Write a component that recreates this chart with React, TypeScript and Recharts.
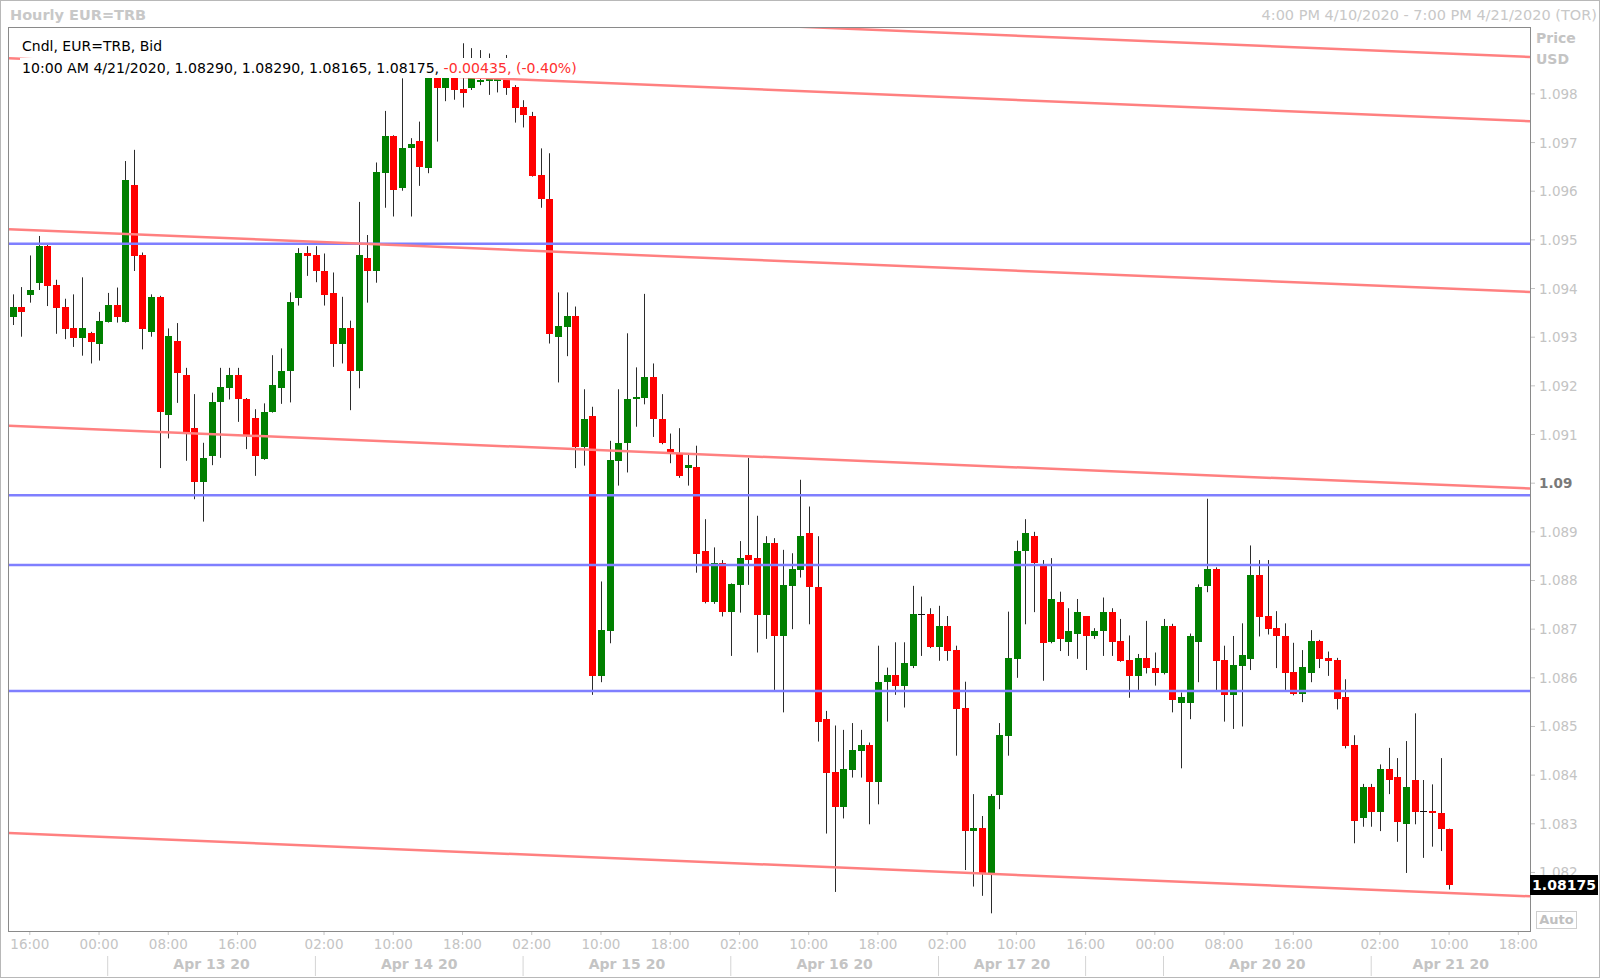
import React from 'react';
import { ComposedChart, Bar, XAxis, YAxis, ReferenceLine } from 'recharts';

// hourly EUR=TRB bid candles, 4/10 16:00 .. 4/21 10:00 (weekend collapsed)
const opens = [
  1.09342, 1.09363, 1.09387, 1.09412, 1.09487, 1.09407, 1.09363, 1.09318, 1.09298, 1.09308,
  1.09287, 1.09332, 1.09366, 1.09332, 1.09613, 1.09469, 1.09311, 1.09382, 1.0914, 1.09292,
  1.09222, 1.09113, 1.09002, 1.09056, 1.09166, 1.09196, 1.09222, 1.09173, 1.09133, 1.0905,
  1.09147, 1.09195, 1.09231, 1.09381, 1.09472, 1.09469, 1.09437, 1.09391, 1.09287, 1.09318,
  1.09231, 1.09462, 1.09437, 1.09637, 1.09713, 1.09606, 1.09688, 1.09703, 1.09647, 1.09837,
  1.09812, 1.09833, 1.0981, 1.09812, 1.09828, 1.09827, 1.09829, 1.09832, 1.09814, 1.09774,
  1.09755, 1.09633, 1.09585, 1.09301, 1.0932, 1.09344, 1.09075, 1.09138, 1.08604, 1.08697,
  1.09046, 1.09082, 1.09173, 1.09176, 1.09218, 1.09132, 1.09071, 1.09059, 1.09031, 1.09033,
  1.08861, 1.08755, 1.08835, 1.08736, 1.08791, 1.08852, 1.08846, 1.08729, 1.08878, 1.08685,
  1.08789, 1.08822, 1.08897, 1.08787, 1.08515, 1.08406, 1.08334, 1.08411, 1.0845, 1.08461,
  1.08385, 1.08591, 1.08606, 1.08584, 1.08624, 1.08731, 1.08731, 1.08664, 1.08707, 1.08657,
  1.08537, 1.08286, 1.08291, 1.08198, 1.08359, 1.08481, 1.08639, 1.08861, 1.08891, 1.0883,
  1.08673, 1.08755, 1.08674, 1.0869, 1.08727, 1.08685, 1.08696, 1.08736, 1.08676, 1.08637,
  1.08604, 1.0864, 1.08621, 1.08609, 1.08707, 1.08549, 1.08549, 1.08674, 1.08789, 1.08823,
  1.08637, 1.08565, 1.08625, 1.08639, 1.08811, 1.08727, 1.08702, 1.08686, 1.08611, 1.08566,
  1.0861, 1.08676, 1.08641, 1.08637, 1.08561, 1.08461, 1.08311, 1.08376, 1.08324, 1.08412,
  1.08396, 1.08299, 1.0839, 1.08326, 1.08326, 1.08322, 1.0829,
];
const highs = [
  1.09388, 1.09403, 1.09468, 1.09508, 1.0949, 1.09418, 1.09379, 1.09388, 1.09423, 1.09311,
  1.09352, 1.09391, 1.09402, 1.09662, 1.09685, 1.09474, 1.09388, 1.09385, 1.09318, 1.09329,
  1.09237, 1.09183, 1.09083, 1.09186, 1.09237, 1.09237, 1.09237, 1.09175, 1.09152, 1.09164,
  1.09263, 1.09277, 1.09392, 1.09483, 1.09487, 1.09487, 1.09472, 1.09433, 1.09383, 1.09334,
  1.09578, 1.0951, 1.09659, 1.09765, 1.09715, 1.09832, 1.09709, 1.09743, 1.09845, 1.09845,
  1.09841, 1.09839, 1.09904, 1.09894, 1.0989, 1.09883, 1.09833, 1.0988, 1.09818, 1.09787,
  1.09763, 1.09688, 1.09678, 1.09392, 1.09392, 1.09363, 1.09193, 1.09157, 1.08798, 1.09087,
  1.09193, 1.09308, 1.09238, 1.09389, 1.09246, 1.09183, 1.09102, 1.09113, 1.09058, 1.09077,
  1.08926, 1.08868, 1.08842, 1.08794, 1.08881, 1.09052, 1.08933, 1.08891, 1.08887, 1.08863,
  1.08856, 1.09007, 1.08952, 1.08891, 1.08532, 1.08502, 1.08493, 1.08507, 1.08493, 1.08467,
  1.08666, 1.08621, 1.08673, 1.08673, 1.08789, 1.08767, 1.08743, 1.08748, 1.08727, 1.08666,
  1.08592, 1.08361, 1.08316, 1.08361, 1.08507, 1.08736, 1.08882, 1.08926, 1.089, 1.08842,
  1.08846, 1.08777, 1.08743, 1.08762, 1.08727, 1.08702, 1.08765, 1.08743, 1.08721, 1.08687,
  1.08649, 1.08717, 1.08652, 1.08721, 1.08711, 1.0857, 1.08691, 1.08792, 1.08968, 1.08827,
  1.08666, 1.08686, 1.08712, 1.08872, 1.08842, 1.08842, 1.08737, 1.08712, 1.08672, 1.08657,
  1.08698, 1.08678, 1.08654, 1.08641, 1.08597, 1.08482, 1.08382, 1.08382, 1.08422, 1.08456,
  1.08435, 1.0847, 1.08527, 1.0839, 1.08381, 1.08435, 1.0829,
];
const lows = [
  1.09325, 1.09301, 1.09371, 1.09397, 1.09364, 1.09307, 1.09296, 1.0928, 1.09262, 1.09246,
  1.09252, 1.0933, 1.0933, 1.0933, 1.09436, 1.09275, 1.09301, 1.09031, 1.09092, 1.09165,
  1.09046, 1.08967, 1.08921, 1.09037, 1.09052, 1.09172, 1.09126, 1.0907, 1.09015, 1.09048,
  1.09145, 1.09163, 1.09166, 1.09365, 1.09426, 1.09413, 1.09365, 1.09239, 1.09246, 1.0915,
  1.09195, 1.09371, 1.09412, 1.09566, 1.09548, 1.09601, 1.09548, 1.09611, 1.09637, 1.09702,
  1.09785, 1.09788, 1.09772, 1.09808, 1.09818, 1.09798, 1.09803, 1.09798, 1.09741, 1.09731,
  1.0963, 1.09566, 1.09287, 1.09207, 1.09261, 1.09031, 1.09036, 1.08565, 1.08591, 1.08671,
  1.08995, 1.09022, 1.09116, 1.09162, 1.09095, 1.0908, 1.09041, 1.09011, 1.08995, 1.08816,
  1.08753, 1.08752, 1.08726, 1.08645, 1.08734, 1.08791, 1.08652, 1.0868, 1.08575, 1.08529,
  1.087, 1.08806, 1.0871, 1.08469, 1.0828, 1.0816, 1.08311, 1.08395, 1.08395, 1.08299,
  1.0834, 1.0851, 1.08565, 1.08539, 1.0862, 1.08645, 1.08661, 1.08635, 1.08635, 1.0844,
  1.08205, 1.08171, 1.08152, 1.08116, 1.0833, 1.0844, 1.086, 1.0871, 1.08735, 1.08594,
  1.08671, 1.08655, 1.08645, 1.08639, 1.08616, 1.0868, 1.08645, 1.08645, 1.08633, 1.08559,
  1.08575, 1.08609, 1.08584, 1.08607, 1.08529, 1.08414, 1.08515, 1.08591, 1.08776, 1.08575,
  1.0851, 1.08495, 1.085, 1.08616, 1.08685, 1.08689, 1.0862, 1.08575, 1.08564, 1.0855,
  1.08591, 1.0862, 1.08604, 1.08535, 1.08455, 1.0826, 1.08294, 1.08294, 1.08285, 1.08361,
  1.08263, 1.08199, 1.08299, 1.0823, 1.08253, 1.08244, 1.08165,
];
const closes = [
  1.09363, 1.09352, 1.09398, 1.09487, 1.09406, 1.09361, 1.09317, 1.09298, 1.09318, 1.09291,
  1.09333, 1.09366, 1.09342, 1.09623, 1.09467, 1.09317, 1.09382, 1.09147, 1.09302, 1.09227,
  1.09106, 1.09002, 1.09052, 1.09167, 1.09197, 1.09222, 1.09172, 1.091, 1.09056, 1.09147,
  1.09202, 1.09231, 1.09372, 1.09472, 1.09467, 1.09436, 1.09387, 1.09287, 1.09318, 1.09231,
  1.09468, 1.09437, 1.09639, 1.09713, 1.09602, 1.09688, 1.09697, 1.0965, 1.09837, 1.09812,
  1.09837, 1.09808, 1.09801, 1.09832, 1.09829, 1.09832, 1.09831, 1.09812, 1.09772, 1.09757,
  1.09632, 1.09583, 1.09307, 1.09322, 1.09344, 1.09074, 1.09132, 1.08604, 1.08698, 1.09048,
  1.09083, 1.09173, 1.09178, 1.09218, 1.09131, 1.09082, 1.09065, 1.09015, 1.09037, 1.08854,
  1.08755, 1.08835, 1.08736, 1.08792, 1.08846, 1.08842, 1.08729, 1.08878, 1.08685, 1.08791,
  1.08823, 1.08891, 1.08786, 1.0851, 1.08405, 1.08334, 1.08412, 1.08452, 1.08461, 1.08385,
  1.08591, 1.08606, 1.08584, 1.08631, 1.08731, 1.08731, 1.08664, 1.08707, 1.08655, 1.08536,
  1.08285, 1.08291, 1.08196, 1.08357, 1.08482, 1.0864, 1.08861, 1.08897, 1.08835, 1.08671,
  1.08762, 1.0868, 1.08697, 1.08736, 1.08685, 1.08697, 1.08736, 1.08674, 1.08635, 1.08604,
  1.0864, 1.0862, 1.08609, 1.08707, 1.08554, 1.0856, 1.08686, 1.08787, 1.08823, 1.08635,
  1.08565, 1.08626, 1.08647, 1.08811, 1.08726, 1.087, 1.08685, 1.0861, 1.08566, 1.08622,
  1.08676, 1.08639, 1.08635, 1.08556, 1.0846, 1.08306, 1.08376, 1.08324, 1.08412, 1.08389,
  1.08304, 1.08376, 1.08324, 1.08326, 1.08322, 1.0829, 1.08175,
];

// x axis: bar index based
const timeTicks = [2, 10, 18, 26, 36, 44, 52, 60, 68, 76, 84, 92, 100, 108, 116, 124, 132, 140, 148, 158, 166, 174];
const timeLabels = ['16:00', '00:00', '08:00', '16:00', '02:00', '10:00', '18:00', '02:00', '10:00', '18:00', '02:00',
  '10:00', '18:00', '02:00', '10:00', '16:00', '00:00', '08:00', '16:00', '02:00', '10:00', '18:00'];
const daySeparators = [11, 35, 59, 83, 107, 124, 133, 157];
const dayLabelPos = [23, 47, 71, 95, 115.5, 145, 166.2];
const dayLabels = ['Apr 13 20', 'Apr 14 20', 'Apr 15 20', 'Apr 16 20', 'Apr 17 20', 'Apr 20 20', 'Apr 21 20'];

const priceTicks = [1.082, 1.083, 1.084, 1.085, 1.086, 1.087, 1.088, 1.089, 1.09, 1.091, 1.092, 1.093, 1.094, 1.095, 1.096, 1.097, 1.098];

// drawn studies
const horizontalLevels = [1.09492, 1.08975, 1.08832, 1.08573];
const channelLeft = [1.10005, 1.09873, 1.09522, 1.09118, 1.08281];
const channelRight = [1.09876, 1.09744, 1.09393, 1.08989, 1.08151];

const X_DOMAIN: [number, number] = [-0.404, 175.35];
const Y_DOMAIN: [number, number] = [1.080797, 1.099354];

const candles = opens.map((o, i) => ({ i, o, h: highs[i], l: lows[i], c: closes[i] }));

const FONT = '"DejaVu Sans", Verdana, sans-serif';
const AXIS_GREY = '#c4c4c4';

function Candle(props: any) {
  let { x, y, width, height, payload } = props;
  if (height < 0) {
    y = y + height;
    height = -height;
  }
  const { o, h, l, c } = payload;
  const k = h - l > 0 ? height / (h - l) : 0;
  const yOf = (v: number) => y + (h - v) * k;
  const n = Math.round(x + width / 2);
  const top = yOf(Math.max(o, c));
  const bot = yOf(Math.min(o, c));
  return (
    <g>
      <line x1={n + 0.5} x2={n + 0.5} y1={y} y2={y + height} stroke="#2b2b2b" strokeWidth={1} />
      {o === c ? (
        <line x1={n - 3} x2={n + 4} y1={Math.round(top) + 0.5} y2={Math.round(top) + 0.5} stroke="#111" strokeWidth={1} />
      ) : (
        <rect
          x={n - 3}
          y={Math.round(top)}
          width={7}
          height={Math.max(Math.round(bot) - Math.round(top), 2)}
          fill={c > o ? '#008000' : '#ff0000'}
          shapeRendering="crispEdges"
        />
      )}
    </g>
  );
}

function TimeTick(props: any) {
  const { x, y, payload } = props;
  const idx = timeTicks.indexOf(payload.value);
  return (
    <g>
      <line x1={x} x2={x} y1={y} y2={y + 4} stroke={AXIS_GREY} />
      <text x={x} y={y + 18} textAnchor="middle" fill={AXIS_GREY} fontSize={13.5} fontFamily={FONT}>
        {idx >= 0 ? timeLabels[idx] : ''}
      </text>
    </g>
  );
}

function DayTick(props: any) {
  const { x, y, payload } = props;
  if (daySeparators.includes(payload.value)) {
    return <line x1={x} x2={x} y1={y + 5} y2={y + 25} stroke="#d4d4d4" />;
  }
  const idx = dayLabelPos.indexOf(payload.value);
  return (
    <text x={x} y={y + 18} textAnchor="middle" fill={AXIS_GREY} fontSize={14} fontWeight="bold" fontFamily={FONT}>
      {idx >= 0 ? dayLabels[idx] : ''}
    </text>
  );
}

function PriceTick(props: any) {
  const { x, y, payload } = props;
  const main = Math.abs(payload.value - 1.09) < 1e-9;
  return (
    <text
      x={x}
      y={y + 5}
      textAnchor="start"
      fill={main ? '#7a7a7a' : AXIS_GREY}
      fontWeight={main ? 'bold' : 'normal'}
      fontSize={13.5}
      fontFamily={FONT}
    >
      {main ? '1.09' : payload.value.toFixed(3)}
    </text>
  );
}

export default function App() {
  return (
    <div style={{ position: 'absolute', left: 0, top: 0, width: 1600, height: 978, background: '#fff', fontFamily: FONT, overflow: 'hidden' }}>
      <ComposedChart
        width={1600}
        height={978}
        data={candles}
        margin={{ top: 28, right: 10, bottom: 2, left: 9 }}
      >
        <XAxis
          dataKey="i"
          type="number"
          domain={X_DOMAIN}
          allowDataOverflow
          ticks={timeTicks}
          interval={0}
          tickSize={0}
          tickMargin={0}
          axisLine={false}
          tickLine={false}
          height={20}
          tick={<TimeTick />}
        />
        <XAxis
          xAxisId="d"
          dataKey="i"
          type="number"
          domain={X_DOMAIN}
          allowDataOverflow
          ticks={[...daySeparators, ...dayLabelPos]}
          interval={0}
          tickSize={0}
          tickMargin={0}
          axisLine={false}
          tickLine={false}
          height={25}
          tick={<DayTick />}
        />
        <YAxis
          orientation="right"
          type="number"
          domain={Y_DOMAIN}
          allowDataOverflow
          ticks={priceTicks}
          interval={0}
          width={60}
          axisLine={false}
          tickLine={{ stroke: AXIS_GREY }}
          tickSize={5}
          tickMargin={4}
          tick={<PriceTick />}
        />
        <Bar
          dataKey={(d: any) => [d.l, d.h]}
          barSize={7}
          isAnimationActive={false}
          shape={(p: any) => <Candle {...p} />}
        />
        {horizontalLevels.map((v) => (
          <ReferenceLine key={'h' + v} y={v} stroke="#7f7fff" strokeWidth={2.5} ifOverflow="hidden" />
        ))}
        {channelLeft.map((v, k) => (
          <ReferenceLine
            key={'c' + k}
            segment={[{ x: X_DOMAIN[0], y: v }, { x: X_DOMAIN[1], y: channelRight[k] }]}
            stroke="#ff8080"
            strokeWidth={2.5}
            ifOverflow="hidden"
          />
        ))}
      </ComposedChart>

      {/* frames */}
      <div style={{ position: 'absolute', left: 0, top: 0, width: 1600, height: 978, boxSizing: 'border-box', border: '1px solid #b8b8b8', pointerEvents: 'none' }} />
      <div style={{ position: 'absolute', left: 8, top: 27, width: 1523, height: 905, boxSizing: 'border-box', border: '1px solid #8a8a8a', pointerEvents: 'none' }} />

      {/* title bar */}
      <div style={{ position: 'absolute', left: 10, top: 6, fontSize: 14.5, fontWeight: 'bold', color: '#c8c8c8', lineHeight: '18px' }}>
        Hourly EUR=TRB
      </div>
      <div style={{ position: 'absolute', right: 3, top: 6, fontSize: 14.5, color: '#c8c8c8', lineHeight: '18px', whiteSpace: 'nowrap' }}>
        4:00 PM 4/10/2020 - 7:00 PM 4/21/2020 (TOR)
      </div>

      {/* legend */}
      <div style={{ position: 'absolute', left: 20, top: 37, padding: '0 2px', background: '#fff', fontSize: 14, lineHeight: '18px', color: '#000', whiteSpace: 'nowrap' }}>
        Cndl, EUR=TRB, Bid
      </div>
      <div style={{ position: 'absolute', left: 20, top: 58, padding: '0 2px', background: '#fff', fontSize: 14.1, lineHeight: '20px', color: '#000', whiteSpace: 'nowrap' }}>
        10:00 AM 4/21/2020, 1.08290, 1.08290, 1.08165, 1.08175, <span style={{ color: '#ff3030' }}>-0.00435, (-0.40%)</span>
      </div>

      {/* right axis decorations */}
      <div style={{ position: 'absolute', left: 1536, top: 29, fontSize: 14, fontWeight: 'bold', color: '#c4c4c4', lineHeight: '18px' }}>Price</div>
      <div style={{ position: 'absolute', left: 1536, top: 50, fontSize: 14, fontWeight: 'bold', color: '#c4c4c4', lineHeight: '18px' }}>USD</div>
      <div style={{ position: 'absolute', left: 1530, top: 875, width: 68, height: 20, background: '#000', color: '#fff', fontWeight: 'bold', fontSize: 14, lineHeight: '20px', textAlign: 'center' }}>
        1.08175
      </div>
      <div style={{ position: 'absolute', left: 1536, top: 911, width: 41, height: 18, boxSizing: 'border-box', border: '1px solid #cfcfcf', color: '#c0c0c0', fontSize: 13, lineHeight: '16px', textAlign: 'center', fontWeight: 'bold' }}>
        Auto
      </div>
    </div>
  );
}
